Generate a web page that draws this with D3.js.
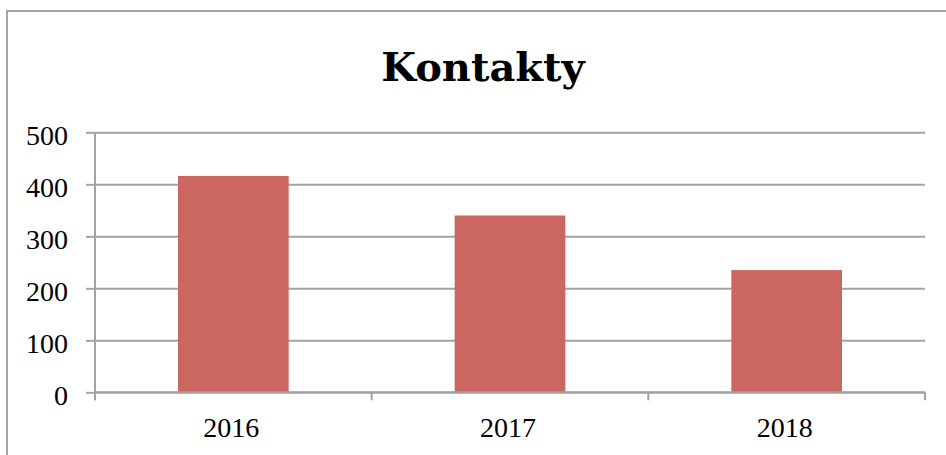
<!DOCTYPE html>
<html>
<head>
<meta charset="utf-8">
<script src="https://cdn.jsdelivr.net/npm/d3@7"></script>
<style>
	body { margin: 0; background: #fff; }
	svg { display: block; }
</style>
</head>
<body>
<svg width="946" height="455"></svg>
<script>
// data
const years = ["2016", "2017", "2018"];
const contacts = [416, 340, 235];
const yTicks = [0, 100, 200, 300, 400, 500];
const title = "Kontakty";

const svg = d3.select("svg");
const gridColor = "#a3a3a3";
const barColor = "#cc6660";

// outer frame (right and bottom edges fall outside the picture)
svg.append("rect")
	.attr("x", 7)
	.attr("y", 11)
	.attr("width", 1000)
	.attr("height", 1000)
	.attr("fill", "none")
	.attr("stroke", gridColor)
	.attr("stroke-width", 2);

const plotLeft = 95,
	plotRight = 925,
	plotTop = 132.3,
	plotBottom = 392.3;

const x = d3.scaleBand()
	.domain(years)
	.range([plotLeft, plotRight])
	.paddingInner(0.6)
	.paddingOuter(0.3);

const y = d3.scaleLinear().domain([0, 500]).range([plotBottom, plotTop]);

// title
svg.append("text")
	.attr("x", 483)
	.attr("y", 81)
	.attr("text-anchor", "middle")
	.attr("font-family", "DejaVu Serif")
	.attr("font-weight", "bold")
	.attr("font-size", "40px")
	.attr("fill", "#000")
	.text(title);

// gridlines + y axis
const yAxis = svg.append("g")
	.attr("transform", "translate(" + plotLeft + ",0)")
	.call(
		d3.axisLeft(y)
			.tickValues(yTicks)
			.tickSize(9)
			.tickPadding(18)
	);
yAxis.select(".domain").remove();
yAxis.selectAll(".tick line").attr("stroke", gridColor).attr("stroke-width", 2);
yAxis.selectAll(".tick")
	.append("line")
	.attr("x1", 0)
	.attr("x2", plotRight - plotLeft)
	.attr("stroke", gridColor)
	.attr("stroke-width", 2);
yAxis.selectAll(".tick text")
	.attr("font-family", "Liberation Serif")
	.attr("font-size", "28px")
	.attr("fill", "#000")
	.attr("dy", "0.32em")
	.attr("y", 3);

// vertical axis line
svg.append("line")
	.attr("x1", plotLeft)
	.attr("x2", plotLeft)
	.attr("y1", plotTop)
	.attr("y2", plotBottom + 8)
	.attr("stroke", gridColor)
	.attr("stroke-width", 2);

// bars
svg.append("g")
	.selectAll("rect")
	.data(years)
	.join("rect")
	.attr("x", (d) => x(d))
	.attr("width", x.bandwidth())
	.attr("y", (d, i) => y(contacts[i]))
	.attr("height", (d, i) => y(0) - y(contacts[i]))
	.attr("fill", barColor);

// x axis line and category separators
svg.append("line")
	.attr("x1", plotLeft)
	.attr("x2", plotRight)
	.attr("y1", plotBottom)
	.attr("y2", plotBottom)
	.attr("stroke", gridColor)
	.attr("stroke-width", 2);

const step = x.step();
const bounds = d3.range(years.length + 1).map((i) =>
	i === 0 ? plotLeft : i === years.length ? plotRight : x(years[i]) - step * 0.3
);
svg.append("g")
	.selectAll("line")
	.data(bounds)
	.join("line")
	.attr("x1", (d) => d)
	.attr("x2", (d) => d)
	.attr("y1", plotBottom)
	.attr("y2", plotBottom + 8)
	.attr("stroke", gridColor)
	.attr("stroke-width", 2);

// x labels
svg.append("g")
	.selectAll("text")
	.data(years)
	.join("text")
	.attr("x", (d) => x(d) + x.bandwidth() / 2 - 2)
	.attr("y", 437)
	.attr("text-anchor", "middle")
	.attr("font-family", "Liberation Serif")
	.attr("font-size", "28px")
	.attr("fill", "#000")
	.text((d) => d);
</script>
</body>
</html>
